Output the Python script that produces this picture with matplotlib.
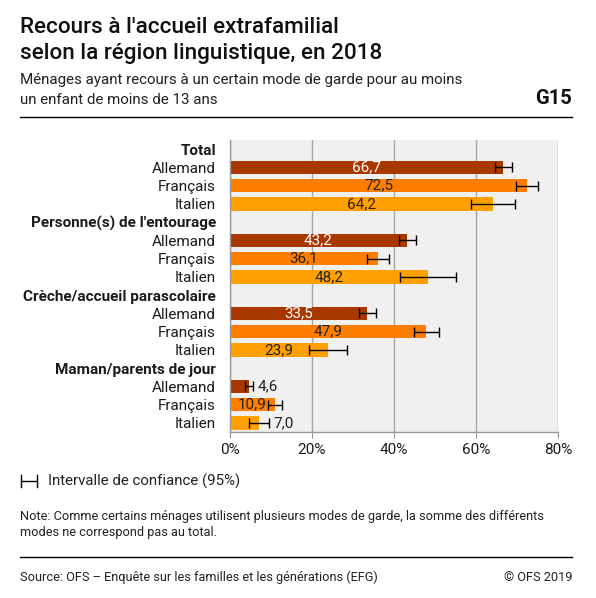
import numpy as np
import matplotlib
matplotlib.use('Agg')
import matplotlib.pyplot as plt
from matplotlib.lines import Line2D

plt.rcParams['font.family'] = ['Roboto', 'DejaVu Sans']

# Data
groups = ["Total", "Personne(s) de l'entourage", "Crèche/accueil parascolaire", "Maman/parents de jour"]
regions = ["Allemand", "Français", "Italien"]
values = [
    [66.7, 72.5, 64.2],
    [43.2, 36.1, 48.2],
    [33.5, 47.9, 23.9],
    [4.6, 10.9, 7.0],
]
ci = [
    [2.0, 2.7, 5.4],
    [2.1, 2.8, 6.8],
    [2.0, 3.1, 4.6],
    [1.0, 1.75, 2.4],
]
xticks = [0, 20, 40, 60, 80]
colors = ['#A83800', '#FF7D00', '#FFA000']
label_colors = ['white', '#222222', '#222222']

W, H = 596, 598
fig = plt.figure(figsize=(W / 100, H / 100), dpi=100)

def px(x, y):
    return x / W, 1 - y / H

ax = fig.add_axes([230 / W, 1 - 432 / H, 328 / W, 292 / H])
ax.set_facecolor('#F0F0F0')

ylabels = []
ypos = []
row = 0
for g, grp in enumerate(groups):
    ylabels.append(grp)
    ypos.append(row)
    row += 1
    for r, reg in enumerate(regions):
        v = values[g][r]
        e = ci[g][r]
        ax.barh(row, v, height=0.73, color=colors[r], zorder=2)
        ax.errorbar(v, row, xerr=e, fmt='none', ecolor='black', elinewidth=1.0,
                    capsize=3.6, capthick=1.0, zorder=3)
        txt = f"{v:.1f}".replace('.', ',')
        if v < 8:
            ax.text(v + e + 1.2, row, txt, va='center', ha='left', fontsize=11,
                    color='#222222', zorder=4)
        else:
            ax.text(v / 2, row, txt, va='center', ha='center', fontsize=11,
                    color=label_colors[r], zorder=4)
        ylabels.append(reg)
        ypos.append(row)
        row += 1

ax.set_ylim(row - 0.5, -0.5)
ax.set_xlim(0, 80)
ax.set_yticks(ypos)
ax.set_yticklabels(ylabels, fontsize=11)
for i, lab in enumerate(ax.get_yticklabels()):
    if i % 4 == 0:
        lab.set_fontweight('bold')
    lab.set_color('#1a1a1a')
ax.tick_params(axis='y', length=0, pad=10)
ax.set_xticks(xticks)
ax.set_xticklabels([f"{t}%" for t in xticks], fontsize=11, color='#1a1a1a')
ax.tick_params(axis='x', length=4, color='#999999', pad=4)
ax.grid(axis='x', color='#A6A6A6', linewidth=1.0, zorder=1)
ax.set_axisbelow(True)
for s in ['top', 'right']:
    ax.spines[s].set_visible(False)
for s in ['left', 'bottom']:
    ax.spines[s].set_color('#999999')
    ax.spines[s].set_linewidth(1.0)

# Header
fig.text(*px(20, 33), "Recours à l'accueil extrafamilial", fontsize=16.2,
         fontweight='medium', color='#111111', va='baseline')
fig.text(*px(20, 59), "selon la région linguistique, en 2018", fontsize=16.2,
         fontweight='medium', color='#111111', va='baseline')
fig.text(*px(20, 84), "Ménages ayant recours à un certain mode de garde pour au moins",
         fontsize=10.9, color='#222222', va='baseline')
fig.text(*px(20, 104), "un enfant de moins de 13 ans",
         fontsize=10.9, color='#222222', va='baseline')
fig.text(*px(572, 104), "G15", fontsize=14.5, fontweight='bold', color='#111111',
         ha='right', va='baseline')
fig.add_artist(Line2D([20 / W, 572 / W], [1 - 117 / H] * 2, color='black', lw=1.0))

# Legend
ly = 1 - 481 / H
fig.add_artist(Line2D([21 / W, 37 / W], [ly, ly], color='black', lw=1.0))
fig.add_artist(Line2D([21 / W, 21 / W], [ly - 6 / H, ly + 6 / H], color='black', lw=1.0))
fig.add_artist(Line2D([37 / W, 37 / W], [ly - 6 / H, ly + 6 / H], color='black', lw=1.0))
fig.text(*px(48, 481), "Intervalle de confiance (95%)", fontsize=10.8,
         color='#222222', va='center')

# Note
fig.text(*px(20, 520), "Note: Comme certains ménages utilisent plusieurs modes de garde, la somme des différents",
         fontsize=9.2, color='#222222', va='baseline')
fig.text(*px(20, 536), "modes ne correspond pas au total.",
         fontsize=9.2, color='#222222', va='baseline')
fig.add_artist(Line2D([20 / W, 572 / W], [1 - 557 / H] * 2, color='black', lw=1.0))
fig.text(*px(20, 581), "Source: OFS – Enquête sur les familles et les générations (EFG)",
         fontsize=9.15, color='#222222', va='baseline')
fig.text(*px(572, 581), "© OFS 2019", fontsize=9.15, color='#222222',
         ha='right', va='baseline')

fig.savefig('out.png', dpi=100)
